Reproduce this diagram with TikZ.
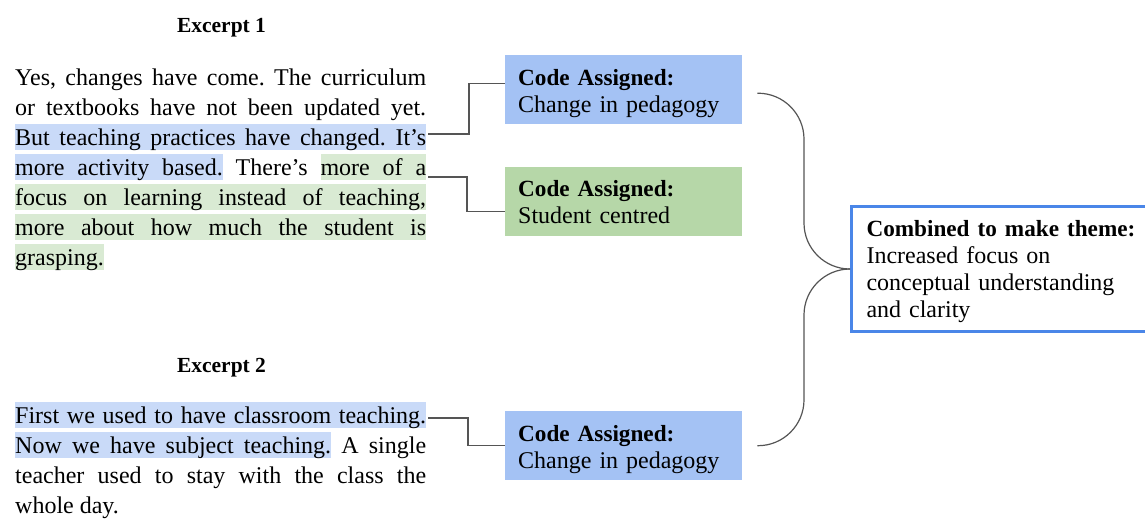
\documentclass[tikz,border=0pt]{standalone}
\usepackage{fontspec}
\setmainfont{Liberation Serif}
\usetikzlibrary{positioning,calc}
\definecolor{codeblue}{HTML}{A4C2F4}
\definecolor{codegreen}{HTML}{B6D7A8}
\definecolor{hlblue}{HTML}{C9DAF8}
\definecolor{hlgreen}{HTML}{D9EAD3}
\definecolor{themeblue}{HTML}{4A86E8}
\definecolor{linkgray}{HTML}{555555}
% marker-pen highlight: a band under every word and a stretchable band for every space
\newlength{\hlht}\setlength{\hlht}{21pt}
\newlength{\hldp}\setlength{\hldp}{5pt}
\newsavebox{\hlwordbox}
\makeatletter
\def\hlword#1{\leavevmode\sbox\hlwordbox{#1}%
    \rlap{\color{\hl@col}\vrule height\hlht depth\hldp width\wd\hlwordbox}\usebox\hlwordbox}
\def\hlspace{{\color{\hl@col}\leaders\vrule height\hlht depth\hldp
    \hskip\fontdimen2\font plus\fontdimen3\font minus\fontdimen4\font}}
\def\hlrun#1 #2\@nil{\hlword{#1}\ifx\relax#2\relax\else\hlspace\hlrun#2\@nil\fi}
\newcommand{\hlon}[2]{\def\hl@col{#1}\hlrun#2 \@nil}
\makeatother
% justified block of quoted text, no hyphens
\newenvironment{quoteblock}{\begin{minipage}[t]{411pt}\hyphenpenalty=10000\relax\leavevmode\ignorespaces}{\end{minipage}}
\newcommand{\boxhead}[1]{{\fontsize{23.2}{27}\selectfont\bfseries #1}}
\tikzset{
    excerpt/.style={inner sep=0pt,anchor=base west,
        font=\fontsize{24}{30}\selectfont\frenchspacing},
    heading/.style={inner sep=0pt,anchor=base,font=\fontsize{21.5}{25}\selectfont\bfseries},
    code/.style={minimum width=237pt,text width=211pt,align=left,inner xsep=13pt,
        inner ysep=0pt,text height=30pt,text depth=39pt,anchor=north west,
        font=\fontsize{24}{27}\selectfont},
    theme/.style={draw=themeblue,line width=3pt,minimum width=310pt,text width=280pt,
        align=left,inner xsep=13.5pt,inner ysep=0pt,text height=30pt,text depth=95pt,
        anchor=north west,font=\fontsize{24}{27}\selectfont},
    link/.style={draw=linkgray,line width=1.2pt},
}

\begin{document}
\begin{tikzpicture}[x=1pt,y=-1pt]
    \useasboundingbox (0,0) rectangle (1145,520);

    % excerpts
    \node[heading] (h1) at (221.5,32) {Excerpt 1};
    \node[excerpt] (ex1) at (15,85) {\begin{quoteblock}
        Yes, changes have come. The curriculum\linebreak
        or textbooks have not been updated yet.\linebreak
        \hlon{hlblue}{But teaching practices have changed. It’s}\linebreak
        \hlon{hlblue}{more activity based.} There’s \hlon{hlgreen}{more of a}\linebreak
        \hlon{hlgreen}{focus on learning instead of teaching,}\linebreak
        \hlon{hlgreen}{more about how much the student is}\linebreak
        \hlon{hlgreen}{grasping.}\end{quoteblock}};

    \node[heading] (h2) at (221.5,372) {Excerpt 2};
    \node[excerpt] (ex2) at (15,423) {\begin{quoteblock}
        \hlon{hlblue}{First we used to have classroom teaching.}\linebreak
        \hlon{hlblue}{Now we have subject teaching.} A single\linebreak
        teacher used to stay with the class the\linebreak
        whole day.\end{quoteblock}};

    % codes and theme
    \node[code,fill=codeblue] (code1) at (505,55) {\boxhead{Code Assigned:}\\Change in pedagogy};
    \node[code,fill=codegreen,below=42pt of code1.south west,anchor=north west] (code2)
        {\boxhead{Code Assigned:}\\Student centred};
    \node[code,fill=codeblue] (code3) at (505,411) {\boxhead{Code Assigned:}\\Change in pedagogy};
    \node[theme] (theme) at (850,205) {\boxhead{Combined to make theme:}\\Increased focus on\\
        conceptual understanding\\and clarity};

    % links from the text to the codes
    \coordinate (q1) at (428,134);
    \coordinate (q2) at (428,177);
    \coordinate (q3) at (428,418);
    \draw[link] (q1) -- ++(41,0) |- ([yshift=6.5pt]code1.west);
    \draw[link] (q2) -- ++(39,0) |- ([yshift=-10.5pt]code2.west);
    \draw[link] (q3) -- ++(40,0) |- (code3.west);

    % brace joining the codes into the theme
    \coordinate (b1) at ([xshift=15pt,yshift=-3.5pt]code1.east);
    \coordinate (b3) at ([xshift=15pt]code3.east);
    \coordinate (join) at ($(theme.west)+(-46,0)$);
    \draw[link,rounded corners=46pt] (b1) -| (join) -- (theme.west);
    \draw[link,rounded corners=46pt] (b3) -| (join) -- (theme.west);
\end{tikzpicture}
\end{document}
